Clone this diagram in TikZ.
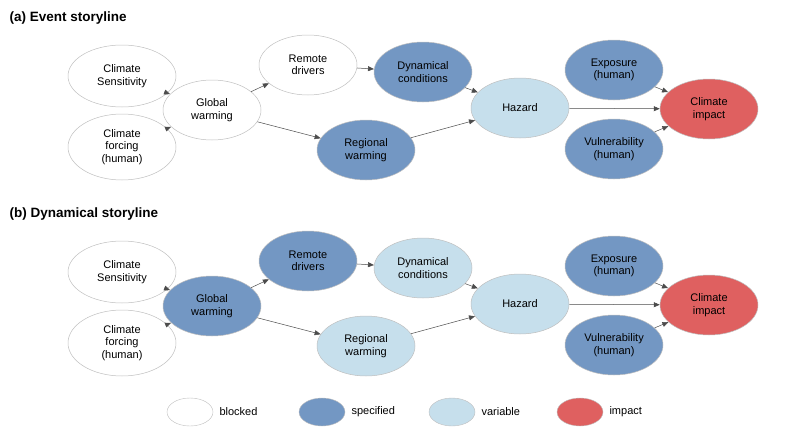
\documentclass[tikz,border=0pt]{standalone}
\usepackage{fontspec}
\setmainfont{Liberation Sans}
\usetikzlibrary{shapes.geometric,arrows.meta}
\definecolor{spec}{HTML}{7397C3}
\definecolor{vari}{HTML}{C6DFEC}
\definecolor{imp}{HTML}{DF6060}
\tikzset{
 el/.style={ellipse,draw=black!25,line width=0.5pt,minimum width=98pt,minimum height=60pt,inner sep=0pt,align=center,font=\fontsize{11}{12.5}\selectfont},
 bl/.style={el,fill=white},
 sp/.style={el,fill=spec},
 va/.style={el,fill=vari},
 im/.style={el,fill=imp},
 lg/.style={ellipse,draw=black!25,minimum width=46pt,minimum height=28pt},
 ar/.style={-{Triangle[length=6pt,width=5pt]},black!70,line width=0.5pt},
 tt/.style={font=\bfseries\fontsize{13.5}{15}\selectfont,anchor=west},
 lt/.style={font=\fontsize{11}{12.5}\selectfont,anchor=west}
}
\begin{document}
\begin{tikzpicture}[x=1pt,y=-1pt]
\useasboundingbox (0,0) rectangle (800,439);
\foreach \oy/\t/\rd/\dc/\rw/\gw in {0/{(a) Event storyline}/bl/sp/sp/bl, 196/{(b) Dynamical storyline}/sp/va/va/sp}{
\begin{scope}[yshift=-\oy]
\node[tt] at (6,18) {\t};
\node[bl,minimum width=108pt,minimum height=62pt] (cs) at (122,76) {Climate\\Sensitivity};
\node[bl,minimum width=108pt,minimum height=66pt] (cf) at (122,147) {Climate\\forcing\\(human)};
\node[\gw] (gw) at (212,110) {Global\\warming};
\node[\rd] (rd) at (308,65) {Remote\\drivers};
\node[\dc] (dc) at (423,72) {Dynamical\\conditions};
\node[\rw] (rw) at (366,150) {Regional\\warming};
\node[va] (hz) at (520,108) {Hazard};
\node[sp] (ex) at (614,70) {Exposure\\(human)};
\node[sp] (vu) at (614,149) {Vulnerability\\(human)};
\node[im] (ci) at (709,109) {Climate\\impact};
\draw[ar] (cs) -- (gw);
\draw[ar] (cf) -- (gw);
\draw[ar] (gw) -- (rd);
\draw[ar] (gw) -- (rw);
\draw[ar] (rd) -- (dc);
\draw[ar] (dc) -- (hz);
\draw[ar] (rw) -- (hz);
\draw[ar] (hz) -- (ci);
\draw[ar] (ex) -- (ci);
\draw[ar] (vu) -- (ci);
\end{scope}}
\node[lg,fill=white] (l1) at (190,412) {};
\node[lt] at (216,412) {blocked};
\node[lg,fill=spec] (l2) at (322,412) {};
\node[lt] at (348,412) {specified};
\node[lg,fill=vari] (l3) at (452,412) {};
\node[lt] at (478,412) {variable};
\node[lg,fill=imp] (l4) at (580,412) {};
\node[lt] at (606,412) {impact};
\end{tikzpicture}
\end{document}
